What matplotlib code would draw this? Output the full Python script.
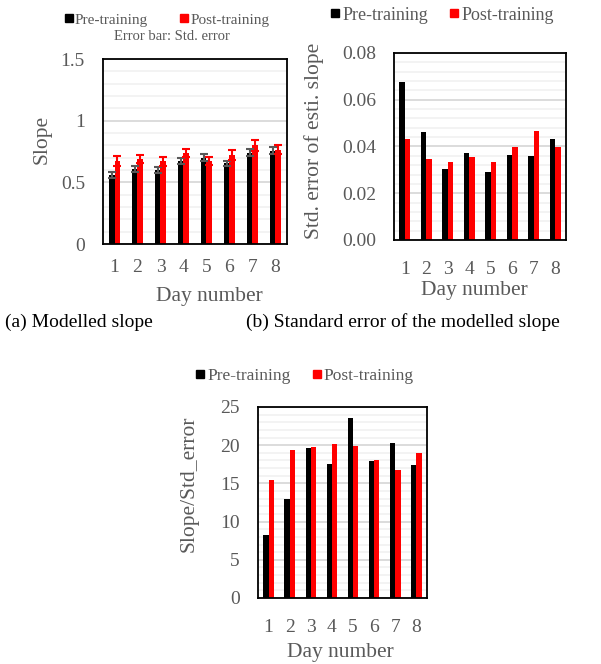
import numpy as np
import matplotlib
matplotlib.use('Agg')
import matplotlib.pyplot as plt
from matplotlib.ticker import MultipleLocator
from matplotlib.lines import Line2D

matplotlib.rcParams['font.family'] = 'Liberation Serif'

days = ['1', '2', '3', '4', '5', '6', '7', '8']

# (a) modelled slope with std. error bars
slope_pre = [0.561, 0.61, 0.603, 0.67, 0.70, 0.655, 0.742, 0.757]
slope_post = [0.673, 0.687, 0.67, 0.737, 0.67, 0.72, 0.80, 0.766]
slope_pre_err = [0.026, 0.023, 0.024, 0.024, 0.026, 0.02, 0.026, 0.027]
slope_post_err = [0.04, 0.032, 0.038, 0.034, 0.032, 0.04, 0.043, 0.039]

# (b) std. error of estimated slope
se_pre = [0.0674, 0.0463, 0.0304, 0.0371, 0.0291, 0.0363, 0.036, 0.043]
se_post = [0.043, 0.0346, 0.0334, 0.0354, 0.0334, 0.0397, 0.0467, 0.0397]

# (c) slope / std_error
ratio_pre = [8.3, 12.9, 19.6, 17.6, 23.6, 17.9, 20.3, 17.4]
ratio_post = [15.5, 19.4, 19.7, 20.2, 19.9, 18.0, 16.8, 19.0]

GRAY = '#595959'
w = 0.25
x = np.arange(len(days))

fig = plt.figure(figsize=(6.01, 6.64), dpi=100)


def style(ax, ymax, major, minor, xpad, fmt=None):
    ax.set_xlim(-0.5, len(days) - 0.5)
    ax.set_ylim(0, ymax)
    ax.yaxis.set_major_locator(MultipleLocator(major))
    ax.yaxis.set_minor_locator(MultipleLocator(minor))
    ax.grid(axis='y', which='major', color='#d9d9d9', linewidth=1.3)
    ax.grid(axis='y', which='minor', color='#f0f0f0', linewidth=1.1)
    ax.set_axisbelow(True)
    ax.set_xticks(x)
    ax.set_xticklabels(days)
    ax.tick_params(which='both', length=0, labelsize=14, labelcolor=GRAY)
    ax.tick_params(axis='x', pad=xpad)
    ax.tick_params(axis='y', pad=13)
    for s in ax.spines.values():
        s.set_color('black')
        s.set_linewidth(1.3)
    if fmt:
        ax.yaxis.set_major_formatter(fmt)
    ax.set_xlabel('Day number', fontsize=15.5, color=GRAY)


def legend(ax, cx, cy, fs, spacing):
    h = [Line2D([], [], ls='', marker='s', ms=6, color='black'),
         Line2D([], [], ls='', marker='s', ms=6, color='red')]
    ax.legend(h, ['Pre-training', 'Post-training'], loc='center',
              bbox_to_anchor=(cx, cy), ncol=2, frameon=False, fontsize=fs,
              handlelength=0.5, handletextpad=0.15, columnspacing=spacing,
              labelcolor=GRAY, borderpad=0, borderaxespad=0)


# (a)
ax1 = fig.add_axes([0.1714, 0.6325, 0.306, 0.2786])
ax1.bar(x - w / 2, slope_pre, w, color='black', yerr=slope_pre_err,
        error_kw=dict(ecolor=GRAY, capsize=3, elinewidth=1.5, capthick=1.5))
ax1.bar(x + w / 2, slope_post, w, color='red', yerr=slope_post_err,
        error_kw=dict(ecolor='red', capsize=3, elinewidth=1.5, capthick=1.5))
style(ax1, 1.5, 0.5, 0.1, 11, matplotlib.ticker.FuncFormatter(lambda v, p: f'{v:g}'))
ax1.set_ylabel('Slope', fontsize=15.5, color=GRAY)
ax1.yaxis.set_label_coords(-0.277, 0.568)
ax1.xaxis.set_label_coords(0.58, -0.235)
legend(ax1, 0.348, 1.211, 11, 2.1)
ax1.text(0.375, 1.124, 'Error bar: Std. error', transform=ax1.transAxes,
         ha='center', va='center', fontsize=10.5, color=GRAY)

# (b)
ax2 = fig.add_axes([0.6556, 0.6386, 0.2862, 0.2816])
ax2.bar(x - w / 2, se_pre, w, color='black')
ax2.bar(x + w / 2, se_post, w, color='red')
style(ax2, 0.08, 0.02, 0.004, 15, matplotlib.ticker.FormatStrFormatter('%.2f'))
ax2.set_ylabel('Std. error of esti. slope', fontsize=15.5, color=GRAY)
ax2.yaxis.set_label_coords(-0.407, 0.53)
ax2.xaxis.set_label_coords(0.465, -0.22)
legend(ax2, 0.279, 1.203, 13, 1.2)

# (c)
ax3 = fig.add_axes([0.4293, 0.0994, 0.2812, 0.2877])
ax3.bar(x - w / 2, ratio_pre, w, color='black')
ax3.bar(x + w / 2, ratio_post, w, color='red')
style(ax3, 25, 5, 1, 15)
ax3.set_ylabel('Slope/Std_error', fontsize=15.5, color=GRAY)
ax3.yaxis.set_label_coords(-0.349, 0.597)
ax3.xaxis.set_label_coords(0.485, -0.236)
legend(ax3, 0.278, 1.162, 12.5, 1.25)

fig.text(0.008, 0.515, '(a) Modelled slope', fontsize=14, color='black', va='center')
fig.text(0.41, 0.515, '(b) Standard error of the modelled slope', fontsize=14,
         color='black', va='center')

fig.savefig('out.png', dpi=100)
